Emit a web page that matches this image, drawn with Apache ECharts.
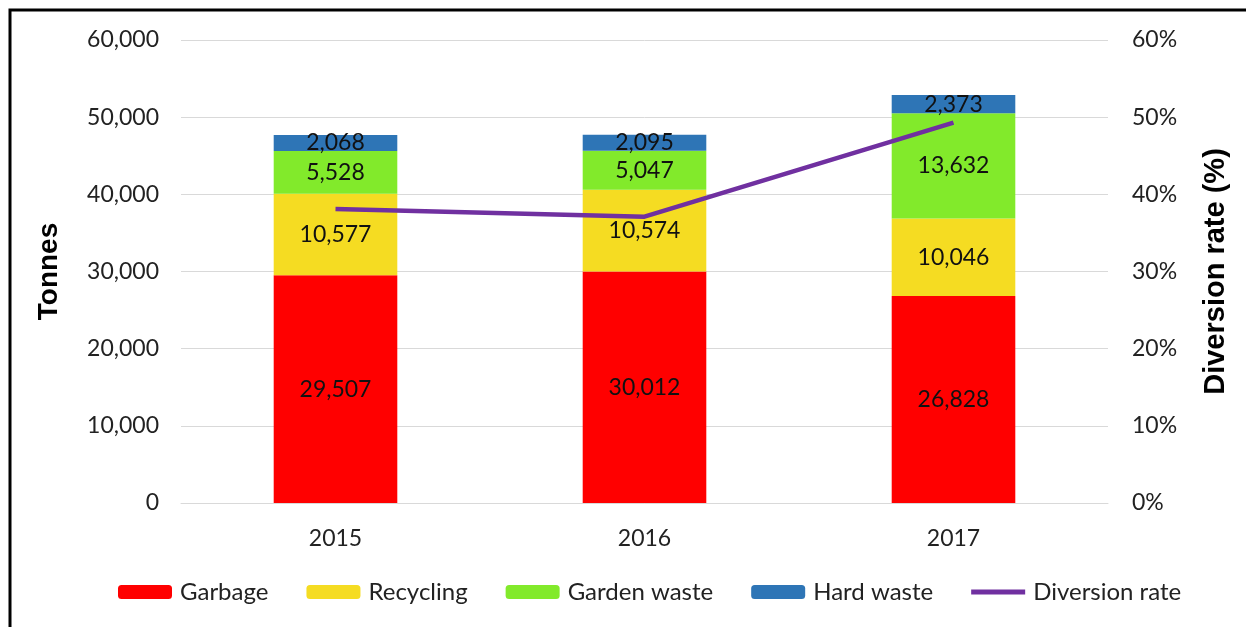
<!DOCTYPE html>
<html>
<head>
<meta charset="utf-8">
<script src="https://cdn.jsdelivr.net/npm/echarts@6/dist/echarts.min.js"></script>
<style>
  html, body { margin: 0; padding: 0; background: #fff; }
  #chart { width: 1246px; height: 627px; }
</style>
</head>
<body>
<div id="chart"></div>
<script>
const years = ['2015', '2016', '2017'];
const garbage = [29507, 30012, 26828];
const recycling = [10577, 10574, 10046];
const gardenWaste = [5528, 5047, 13632];
const hardWaste = [2068, 2095, 2373];
const diversionRate = [38.1, 37.1, 49.3];

const font = 'Lato, "Open Sans", sans-serif';
const titleFont = '"Liberation Sans", Arial, sans-serif';
const fmt = v => v.toLocaleString('en-US');

function barSeries(name, data, color) {
  return {
    name: name,
    type: 'bar',
    stack: 'waste',
    data: data,
    barWidth: '40%',
    itemStyle: { color: color },
    label: {
      show: true,
      position: 'inside',
      color: '#111',
      fontFamily: font,
      fontSize: 23,
      formatter: p => fmt(p.value)
    }
  };
}

let myChart = echarts.init(document.getElementById('chart'));
myChart.setOption({
  animation: false,
  textStyle: { fontFamily: font },
  grid: { left: 181, right: 138, top: 40, bottom: 124 },
  // frame: only top and left edges are inside the picture
  graphic: [{
    type: 'rect',
    shape: { x: 10, y: 10, width: 1300, height: 700 },
    style: { fill: 'none', stroke: '#000', lineWidth: 3 }
  }],
  legend: {
    bottom: 18,
    left: 113,
    itemWidth: 54,
    itemHeight: 14,
    itemGap: 38,
    textStyle: { fontSize: 24, color: '#222', fontFamily: font, padding: [0, 0, 0, 3] },
    data: [
      'Garbage', 'Recycling', 'Garden waste', 'Hard waste',
      { name: 'Diversion rate', icon: 'path://M0,0 H54 V5 H0 Z' }
    ]
  },
  xAxis: {
    type: 'category',
    data: years,
    axisTick: { show: false },
    axisLine: { lineStyle: { color: '#d9d9d9' } },
    axisLabel: { color: '#222', fontSize: 23, margin: 24 }
  },
  yAxis: [{
    type: 'value',
    min: 0,
    max: 60000,
    interval: 10000,
    name: 'Tonnes',
    nameLocation: 'middle',
    nameGap: 118,
    nameTextStyle: { fontSize: 28, fontWeight: 'bold', color: '#000', fontFamily: titleFont },
    axisLabel: { color: '#222', fontSize: 23, margin: 22, formatter: v => fmt(v) },
    splitLine: { lineStyle: { color: '#d9d9d9' } }
  }, {
    type: 'value',
    min: 0,
    max: 60,
    interval: 10,
    name: 'Diversion rate (%)',
    nameLocation: 'middle',
    nameGap: 93,
    nameRotate: 90,
    nameTextStyle: { fontSize: 29, fontWeight: 'bold', color: '#000', fontFamily: titleFont },
    axisLabel: { color: '#222', fontSize: 23, margin: 24, formatter: '{value}%' },
    splitLine: { show: false }
  }],
  series: [
    barSeries('Garbage', garbage, '#ff0000'),
    barSeries('Recycling', recycling, '#f5dc22'),
    barSeries('Garden waste', gardenWaste, '#82ea2b'),
    barSeries('Hard waste', hardWaste, '#2e75b6'),
    {
      name: 'Diversion rate',
      type: 'line',
      yAxisIndex: 1,
      data: diversionRate,
      symbol: 'none',
      lineStyle: { color: '#7030a0', width: 4.5 },
      itemStyle: { color: '#7030a0' }
    }
  ]
});
</script>
</body>
</html>
